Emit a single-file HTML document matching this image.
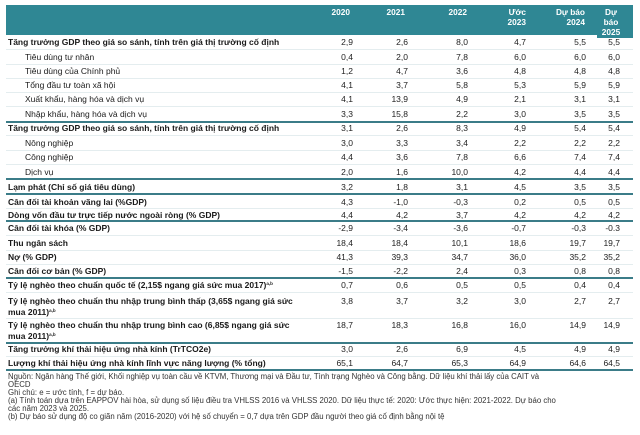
<!DOCTYPE html>
<html><head><meta charset="utf-8">
<style>
html,body{margin:0;padding:0;background:#fff;}
body{width:640px;height:435px;position:relative;overflow:hidden;font-family:"Liberation Sans",Arial,sans-serif;color:#1a1a1a;}
.band{position:absolute;left:6px;top:5px;width:627px;height:30px;background:#2f8794;}
.band2{position:absolute;left:597px;top:34px;width:36px;height:4px;background:#2f8794;}
.h{position:absolute;color:#fff;font-weight:bold;font-size:8.3px;line-height:10px;white-space:nowrap;text-align:right;}
.r{position:absolute;left:0;width:640px;height:10px;line-height:10px;font-size:8.5px;white-space:nowrap;}
.l{position:absolute;left:8px;top:0;}
.i{left:25px;}
.b{font-weight:bold;}
.v{position:absolute;top:0;text-align:right;color:#222;}
.c1{right:287px}.c2{right:232px}.c3{right:172px}.c4{right:114px}.c5{right:54px}.c6{right:20px}
.sep{position:absolute;left:6px;width:627px;height:2px;background:#3b7c88;}
.fl{position:absolute;left:6px;width:627px;height:1px;background:#e4edef;}
.f{position:absolute;left:8px;font-size:7.8px;line-height:8px;white-space:nowrap;color:#333;}
sup{font-size:4.5px;vertical-align:3px;line-height:0;}
</style></head><body>
<div class="band"></div>
<div class="band2"></div>
<div class="h" style="right:290px;top:7px">2020</div>
<div class="h" style="right:235px;top:7px">2021</div>
<div class="h" style="right:173px;top:7px">2022</div>
<div class="h" style="right:114px;top:7px">Ước<br>2023</div>
<div class="h" style="right:55px;top:7px">Dự báo<br>2024</div>
<div class="h" style="left:596px;width:30px;text-align:center;top:7px">Dự<br>báo<br>2025</div>

<div class="r" style="top:37px"><span class="l b">Tăng trưởng GDP theo giá so sánh, tính trên giá thị trường cố định</span><span class="v c1">2,9</span><span class="v c2">2,6</span><span class="v c3">8,0</span><span class="v c4">4,7</span><span class="v c5">5,5</span><span class="v c6">5,5</span></div>
<div class="fl" style="top:49px"></div>
<div class="r" style="top:52px"><span class="l i">Tiêu dùng tư nhân</span><span class="v c1">0,4</span><span class="v c2">2,0</span><span class="v c3">7,8</span><span class="v c4">6,0</span><span class="v c5">6,0</span><span class="v c6">6,0</span></div>
<div class="fl" style="top:64px"></div>
<div class="r" style="top:66px"><span class="l i">Tiêu dùng của Chính phủ</span><span class="v c1">1,2</span><span class="v c2">4,7</span><span class="v c3">3,6</span><span class="v c4">4,8</span><span class="v c5">4,8</span><span class="v c6">4,8</span></div>
<div class="fl" style="top:78px"></div>
<div class="r" style="top:80px"><span class="l i">Tổng đầu tư toàn xã hội</span><span class="v c1">4,1</span><span class="v c2">3,7</span><span class="v c3">5,8</span><span class="v c4">5,3</span><span class="v c5">5,9</span><span class="v c6">5,9</span></div>
<div class="fl" style="top:92px"></div>
<div class="r" style="top:94px"><span class="l i">Xuất khẩu, hàng hóa và dịch vụ</span><span class="v c1">4,1</span><span class="v c2">13,9</span><span class="v c3">4,9</span><span class="v c4">2,1</span><span class="v c5">3,1</span><span class="v c6">3,1</span></div>
<div class="fl" style="top:106px"></div>
<div class="r" style="top:109px"><span class="l i">Nhập khẩu, hàng hóa và dịch vụ</span><span class="v c1">3,3</span><span class="v c2">15,8</span><span class="v c3">2,2</span><span class="v c4">3,0</span><span class="v c5">3,5</span><span class="v c6">3,5</span></div>
<div class="sep" style="top:121px"></div>
<div class="r" style="top:123px"><span class="l b">Tăng trưởng GDP theo giá so sánh, tính trên giá thị trường cố định</span><span class="v c1">3,1</span><span class="v c2">2,6</span><span class="v c3">8,3</span><span class="v c4">4,9</span><span class="v c5">5,4</span><span class="v c6">5,4</span></div>
<div class="fl" style="top:135px"></div>
<div class="r" style="top:138px"><span class="l i">Nông nghiệp</span><span class="v c1">3,0</span><span class="v c2">3,3</span><span class="v c3">3,4</span><span class="v c4">2,2</span><span class="v c5">2,2</span><span class="v c6">2,2</span></div>
<div class="fl" style="top:150px"></div>
<div class="r" style="top:152px"><span class="l i">Công nghiệp</span><span class="v c1">4,4</span><span class="v c2">3,6</span><span class="v c3">7,8</span><span class="v c4">6,6</span><span class="v c5">7,4</span><span class="v c6">7,4</span></div>
<div class="fl" style="top:164px"></div>
<div class="r" style="top:167px"><span class="l i">Dịch vụ</span><span class="v c1">2,0</span><span class="v c2">1,6</span><span class="v c3">10,0</span><span class="v c4">4,2</span><span class="v c5">4,4</span><span class="v c6">4,4</span></div>
<div class="sep" style="top:178px"></div>
<div class="r" style="top:182px"><span class="l b">Lạm phát (Chỉ số giá tiêu dùng)</span><span class="v c1">3,2</span><span class="v c2">1,8</span><span class="v c3">3,1</span><span class="v c4">4,5</span><span class="v c5">3,5</span><span class="v c6">3,5</span></div>
<div class="sep" style="top:193px"></div>
<div class="r" style="top:197px"><span class="l b">Cân đối tài khoản vãng lai (%GDP)</span><span class="v c1">4,3</span><span class="v c2">-1,0</span><span class="v c3">-0,3</span><span class="v c4">0,2</span><span class="v c5">0,5</span><span class="v c6">0,5</span></div>
<div class="fl" style="top:208px"></div>
<div class="r" style="top:210px"><span class="l b">Dòng vốn đầu tư trực tiếp nước ngoài ròng (% GDP)</span><span class="v c1">4,4</span><span class="v c2">4,2</span><span class="v c3">3,7</span><span class="v c4">4,2</span><span class="v c5">4,2</span><span class="v c6">4,2</span></div>
<div class="sep" style="top:220px"></div>
<div class="r" style="top:223px"><span class="l b">Cân đối tài khóa (% GDP)</span><span class="v c1">-2,9</span><span class="v c2">-3,4</span><span class="v c3">-3,6</span><span class="v c4">-0,7</span><span class="v c5">-0,3</span><span class="v c6">-0.3</span></div>
<div class="fl" style="top:235px"></div>
<div class="r" style="top:238px"><span class="l b">Thu ngân sách</span><span class="v c1">18,4</span><span class="v c2">18,4</span><span class="v c3">10,1</span><span class="v c4">18,6</span><span class="v c5">19,7</span><span class="v c6">19,7</span></div>
<div class="fl" style="top:250px"></div>
<div class="r" style="top:252px"><span class="l b">Nợ (% GDP)</span><span class="v c1">41,3</span><span class="v c2">39,3</span><span class="v c3">34,7</span><span class="v c4">36,0</span><span class="v c5">35,2</span><span class="v c6">35,2</span></div>
<div class="fl" style="top:264px"></div>
<div class="r" style="top:266px"><span class="l b">Cân đối cơ bản (% GDP)</span><span class="v c1">-1,5</span><span class="v c2">-2,2</span><span class="v c3">2,4</span><span class="v c4">0,3</span><span class="v c5">0,8</span><span class="v c6">0,8</span></div>
<div class="sep" style="top:277px"></div>
<div class="r" style="top:280px"><span class="l b">Tỷ lệ nghèo theo chuẩn quốc tế (2,15$ ngang giá sức mua 2017)<sup>a,b</sup></span><span class="v c1">0,7</span><span class="v c2">0,6</span><span class="v c3">0,5</span><span class="v c4">0,5</span><span class="v c5">0,4</span><span class="v c6">0,4</span></div>
<div class="fl" style="top:292px"></div>
<div class="r" style="top:296px"><span class="l b">Tỷ lệ nghèo theo chuẩn thu nhập trung bình thấp (3,65$ ngang giá sức</span><span class="v c1">3,8</span><span class="v c2">3,7</span><span class="v c3">3,2</span><span class="v c4">3,0</span><span class="v c5">2,7</span><span class="v c6">2,7</span></div>
<div class="r" style="top:307px"><span class="l b">mua 2011)<sup>a,b</sup></span></div>
<div class="fl" style="top:318px"></div>
<div class="r" style="top:320px"><span class="l b">Tỷ lệ nghèo theo chuẩn thu nhập trung bình cao (6,85$ ngang giá sức</span><span class="v c1">18,7</span><span class="v c2">18,3</span><span class="v c3">16,8</span><span class="v c4">16,0</span><span class="v c5">14,9</span><span class="v c6">14,9</span></div>
<div class="r" style="top:331px"><span class="l b">mua 2011)<sup>a,b</sup></span></div>
<div class="sep" style="top:342px"></div>
<div class="r" style="top:344px"><span class="l b">Tăng trưởng khí thải hiệu ứng nhà kính (TrTCO2e)</span><span class="v c1">3,0</span><span class="v c2">2,6</span><span class="v c3">6,9</span><span class="v c4">4,5</span><span class="v c5">4,9</span><span class="v c6">4,9</span></div>
<div class="fl" style="top:356px"></div>
<div class="r" style="top:358px"><span class="l b">Lượng khí thải hiệu ứng nhà kính lĩnh vực năng lượng (% tổng)</span><span class="v c1">65,1</span><span class="v c2">64,7</span><span class="v c3">65,3</span><span class="v c4">64,9</span><span class="v c5">64,6</span><span class="v c6">64,5</span></div>
<div class="sep" style="top:369px"></div>

<div class="f" style="top:373px">Nguồn: Ngân hàng Thế giới, Khối nghiệp vụ toàn cầu về KTVM, Thương mại và Đầu tư, Tình trạng Nghèo và Công bằng. Dữ liệu khí thải lấy của CAIT và</div>
<div class="f" style="top:381px">OECD</div>
<div class="f" style="top:389px">Ghi chú: e = ước tính, f = dự báo.</div>
<div class="f" style="top:397px">(a) Tính toán dựa trên EAPPOV hài hòa, sử dụng số liệu điều tra VHLSS 2016 và VHLSS 2020. Dữ liệu thực tế: 2020: Ước thực hiện: 2021-2022. Dự báo cho</div>
<div class="f" style="top:405px">các năm 2023 và 2025.</div>
<div class="f" style="top:413px">(b) Dự báo sử dụng độ co giãn năm (2016-2020) với hệ số chuyển = 0,7 dựa trên GDP đầu người theo giá cố định bằng nội tệ</div>
</body></html>
